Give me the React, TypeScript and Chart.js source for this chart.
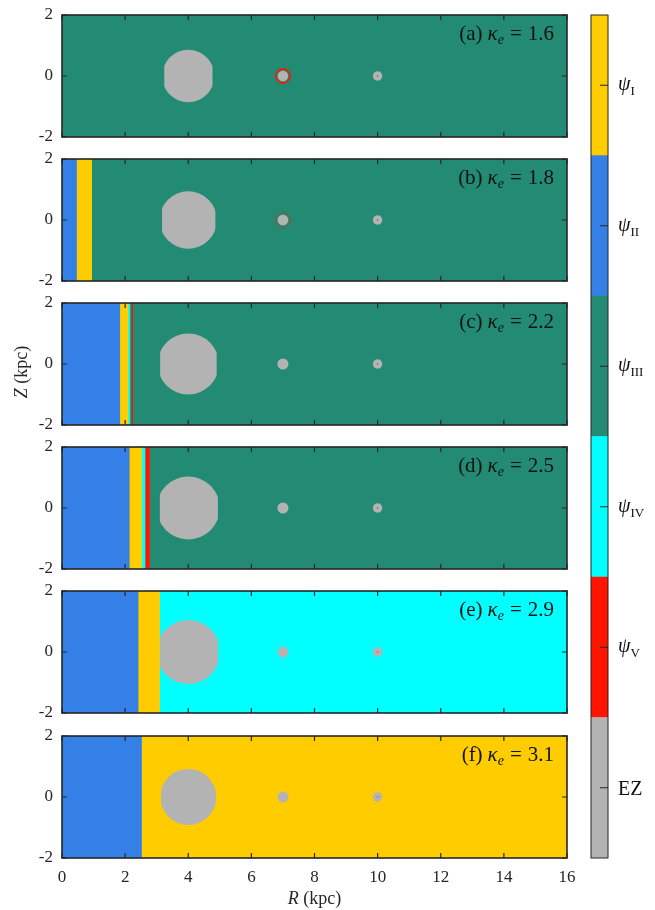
import { useEffect, useRef } from "react";
import { Chart, registerables } from "chart.js";

Chart.register(...registerables);

const FONT = '"Liberation Serif", "Times New Roman", Times, serif';
const INK = "#262626";

// ---------- data ----------
const phaseNames = ["I", "II", "III", "IV", "V", "EZ"];
const phaseColors = ["#FFCC00", "#3580E6", "#238B73", "#00FFFF", "#FF1400", "#B3B3B3"];

const rTicks = [0, 2, 4, 6, 8, 10, 12, 14, 16];
const zTicks = [-2, 0, 2];

const panelLetters = ["a", "b", "c", "d", "e", "f"];
const kappaValues = ["1.6", "1.8", "2.2", "2.5", "2.9", "3.1"];

// phase boundaries along R (kpc) and the phase filling each interval
const edgesA = [0, 16];
const phasesA = ["III"];
const edgesB = [0, 0.46, 0.94, 16];
const phasesB = ["II", "I", "III"];
const edgesC = [0, 1.83, 2.09, 2.15, 2.19, 2.24, 16];
const phasesC = ["II", "I", "IV", "III", "V", "III"];
const edgesD = [0, 2.13, 2.52, 2.63, 2.77, 16];
const phasesD = ["II", "I", "IV", "V", "III"];
const edgesE = [0, 2.41, 3.09, 16];
const phasesE = ["II", "I", "IV"];
const edgesF = [0, 2.52, 16];
const phasesF = ["II", "I"];

// large exclusion zone around R = 4 kpc (ellipse clipped by two R limits)
const ezCenterR = 4.0;
const ezLeft = [3.24, 3.17, 3.11, 3.1, 3.11, 3.14];
const ezRight = [4.77, 4.86, 4.9, 4.94, 4.95, 4.88];
const ezHalfZ = [0.86, 0.94, 1.0, 1.03, 1.05, 0.92];
const ezHalfR = [0.83, 0.91, 0.97, 1.0, 1.01, 0.89];

// small exclusion zones at R = 7 and R = 10 kpc
const smallEzR = [7, 10];
const smallEzRadius7 = [0.165, 0.17, 0.175, 0.175, 0.175, 0.175];
const smallEzRadius10 = [0.15, 0.15, 0.15, 0.15, 0.15, 0.15];
const ringRadius7 = [0.225, 0.245, 0, 0, 0, 0];
const ringAlpha7 = [1, 0.55, 0, 0, 0, 0];

const panelEdges = [edgesA, edgesB, edgesC, edgesD, edgesE, edgesF];
const panelPhases = [phasesA, phasesB, phasesC, phasesD, phasesE, phasesF];

// ---------- layout ----------
const PLOT_LEFT = 62;
const PLOT_RIGHT = 567;
const PANEL_TOPS = [15, 159, 303, 447, 591, 736];
const PLOT_H = 122;
const PAD = 20;
const CANVAS_W = 592;

function colorOf(p: string) {
  return phaseColors[phaseNames.indexOf(p)];
}

type Piece = [string, string, number, number?];

function drawPieces(
  ctx: CanvasRenderingContext2D,
  x: number,
  y: number,
  pieces: Piece[],
  align: "left" | "right" | "center"
) {
  let total = 0;
  const widths = pieces.map(([t, f, , extra]) => {
    ctx.font = f;
    const w = ctx.measureText(t).width + (extra || 0);
    total += w;
    return w;
  });
  let cx = align === "left" ? x : align === "right" ? x - total : x - total / 2;
  ctx.textAlign = "left";
  ctx.textBaseline = "alphabetic";
  pieces.forEach(([t, f, dy], k) => {
    ctx.font = f;
    ctx.fillText(t, cx, y + dy);
    cx += widths[k];
  });
}

function decorPlugin(i: number, isLast: boolean, canvasTop: number) {
  return {
    id: "decor" + i,
    afterDatasetsDraw(chart: any) {
      const { ctx, chartArea: a, scales } = chart;
      const xs = scales.x;
      const ys = scales.y;
      ctx.save();
      ctx.beginPath();
      ctx.rect(a.left, a.top, a.right - a.left, a.bottom - a.top);
      ctx.clip();

      // big EZ
      ctx.save();
      const l = xs.getPixelForValue(ezLeft[i]);
      const r = xs.getPixelForValue(ezRight[i]);
      ctx.beginPath();
      ctx.rect(l, a.top, r - l, a.bottom - a.top);
      ctx.clip();
      const cx = xs.getPixelForValue(ezCenterR);
      const cy = ys.getPixelForValue(0);
      const rx = xs.getPixelForValue(ezCenterR + ezHalfR[i]) - cx;
      const ry = cy - ys.getPixelForValue(ezHalfZ[i]);
      ctx.beginPath();
      ctx.ellipse(cx, cy, rx, ry, 0, 0, Math.PI * 2);
      ctx.fillStyle = colorOf("EZ");
      ctx.fill();
      ctx.restore();

      // small EZs
      const radii = [smallEzRadius7[i], smallEzRadius10[i]];
      smallEzR.forEach((R, k) => {
        const px = xs.getPixelForValue(R);
        const rad = xs.getPixelForValue(R + radii[k]) - px;
        if (k === 0 && ringRadius7[i] > 0) {
          const rr = xs.getPixelForValue(R + ringRadius7[i]) - px;
          ctx.beginPath();
          ctx.arc(px, cy, rr, 0, Math.PI * 2);
          ctx.strokeStyle = colorOf("V");
          ctx.globalAlpha = ringAlpha7[i];
          ctx.lineWidth = i === 0 ? 1.6 : 0.9;
          ctx.stroke();
          ctx.globalAlpha = 1;
        }
        ctx.beginPath();
        ctx.arc(px, cy, rad, 0, Math.PI * 2);
        ctx.fillStyle = colorOf("EZ");
        ctx.fill();
        if (k === 1) {
          ctx.beginPath();
          ctx.arc(px, cy, 0.9, 0, Math.PI * 2);
          ctx.fillStyle = "rgba(230,70,70,0.65)";
          ctx.fill();
        }
      });
      ctx.restore();
    },
    afterDraw(chart: any) {
      const { ctx, chartArea: a, scales } = chart;
      const xs = scales.x;
      const ys = scales.y;
      ctx.save();
      ctx.strokeStyle = INK;
      ctx.lineWidth = 1.2;
      const tl = 5;
      ctx.beginPath();
      rTicks.forEach((v) => {
        const px = xs.getPixelForValue(v);
        ctx.moveTo(px, a.top);
        ctx.lineTo(px, a.top + tl);
        ctx.moveTo(px, a.bottom);
        ctx.lineTo(px, a.bottom - tl);
      });
      zTicks.forEach((v) => {
        const py = ys.getPixelForValue(v);
        ctx.moveTo(a.left, py);
        ctx.lineTo(a.left + tl, py);
        ctx.moveTo(a.right, py);
        ctx.lineTo(a.right - tl, py);
      });
      ctx.stroke();
      ctx.lineWidth = 1.6;
      ctx.strokeRect(a.left, a.top, a.right - a.left, a.bottom - a.top);

      // panel title
      ctx.fillStyle = "#111111";
      drawPieces(
        ctx,
        a.right - 13,
        a.top + 24.5,
        [
          [`(${panelLetters[i]})`, `21px ${FONT}`, 0, 5],
          ["κ", `italic 21px ${FONT}`, 0],
          ["e", `italic 14px ${FONT}`, 4, 6],
          ["=", `21px ${FONT}`, 0, 6],
          [kappaValues[i], `21px ${FONT}`, 0],
        ],
        "right"
      );

      // axis titles
      ctx.fillStyle = INK;
      if (isLast) {
        drawPieces(
          ctx,
          (a.left + a.right) / 2,
          904 - canvasTop,
          [
            ["R", `italic 18px ${FONT}`, 0],
            [" (kpc)", `18px ${FONT}`, 0],
          ],
          "center"
        );
      }
      if (i === 2) {
        ctx.save();
        ctx.translate(27, 372 - canvasTop);
        ctx.rotate(-Math.PI / 2);
        drawPieces(
          ctx,
          0,
          0,
          [
            ["Z", `italic 18px ${FONT}`, 0],
            [" (kpc)", `18px ${FONT}`, 0],
          ],
          "center"
        );
        ctx.restore();
      }
      ctx.restore();
    },
  };
}

function panelConfig(i: number, isLast: boolean, canvasTop: number): any {
  const edges = panelEdges[i];
  const phases = panelPhases[i];
  const datasets = phases.map((p, k) => ({
    label: "ψ " + p,
    data: [[edges[k], edges[k + 1]]],
    backgroundColor: colorOf(p),
    borderWidth: 0,
    barPercentage: 1,
    categoryPercentage: 1,
    grouped: false,
    xAxisID: "x",
    yAxisID: "yb",
  }));
  const tickFont = { family: FONT, size: 17 };
  return {
    type: "bar",
    data: { labels: [""], datasets },
    options: {
      indexAxis: "y",
      animation: false,
      responsive: false,
      events: [],
      layout: {
        padding: { left: 0, right: CANVAS_W - PLOT_RIGHT, top: PAD, bottom: isLast ? 28 : PAD },
      },
      plugins: { legend: { display: false }, tooltip: { enabled: false } },
      scales: {
        x: {
          type: "linear",
          min: 0,
          max: 16,
          offset: false,
          display: isLast,
          position: "bottom",
          grid: { display: false, drawTicks: false },
          border: { display: false },
          ticks: { font: tickFont, color: INK, padding: 9, maxRotation: 0, autoSkip: false },
          afterBuildTicks: (s: any) => {
            s.ticks = rTicks.map((v) => ({ value: v }));
          },
          afterFit: (s: any) => {
            if (isLast) s.height = 24;
          },
        },
        yb: {
          type: "category",
          axis: "y",
          display: false,
          offset: true,
          grid: { display: false },
        },
        y: {
          type: "linear",
          axis: "y",
          position: "left",
          min: -2,
          max: 2,
          offset: false,
          grid: { display: false, drawTicks: false, offset: false },
          border: { display: false },
          ticks: { font: tickFont, color: INK, padding: 9 },
          afterBuildTicks: (s: any) => {
            s.ticks = zTicks.map((v) => ({ value: v }));
          },
          afterFit: (s: any) => {
            s.width = PLOT_LEFT;
          },
        },
      },
    },
    plugins: [decorPlugin(i, isLast, canvasTop)],
  };
}

const CB_LEFT = 585;
const CB_W = 70;

const colorbarPlugin = {
  id: "colorbarDecor",
  afterDraw(chart: any) {
    const { ctx, chartArea: a, scales } = chart;
    const ys = scales.y;
    ctx.save();
    ctx.strokeStyle = INK;
    ctx.lineWidth = 1;
    ctx.strokeRect(a.left, a.top, a.right - a.left, a.bottom - a.top);
    const n = phaseNames.length;
    phaseNames.forEach((p, k) => {
      // top segment is phase I
      const py = ys.getPixelForValue(n - k - 0.5);
      ctx.beginPath();
      ctx.moveTo(a.right, py);
      ctx.lineTo(a.right - 8, py);
      ctx.stroke();
      ctx.fillStyle = "#111111";
      const x0 = a.right + 10;
      if (p === "EZ") {
        drawPieces(ctx, x0, py + 7, [["EZ", `20px ${FONT}`, 0]], "left");
      } else {
        drawPieces(
          ctx,
          x0,
          py + 5,
          [
            ["ψ", `italic 20px ${FONT}`, 0],
            [p, `13px ${FONT}`, 5],
          ],
          "left"
        );
      }
    });
    ctx.restore();
  },
};

function colorbarConfig(): any {
  const order = [...phaseNames].reverse();
  return {
    type: "bar",
    data: {
      labels: [""],
      datasets: order.map((p) => ({
        label: p,
        data: [1],
        backgroundColor: colorOf(p),
        borderWidth: 0,
        barPercentage: 1,
        categoryPercentage: 1,
      })),
    },
    options: {
      animation: false,
      responsive: false,
      events: [],
      layout: { padding: { left: 591 - CB_LEFT, right: CB_LEFT + CB_W - 608, top: 15, bottom: 910 - 858 } },
      plugins: { legend: { display: false }, tooltip: { enabled: false } },
      scales: {
        x: { stacked: true, display: false, offset: true },
        y: { stacked: true, display: false, min: 0, max: phaseNames.length },
      },
    },
    plugins: [colorbarPlugin],
  };
}

export default function App() {
  const refs = useRef<(HTMLCanvasElement | null)[]>([]);
  const cbRef = useRef<HTMLCanvasElement | null>(null);

  useEffect(() => {
    const charts: Chart[] = [];
    PANEL_TOPS.forEach((top, i) => {
      const c = refs.current[i];
      if (!c) return;
      const isLast = i === PANEL_TOPS.length - 1;
      charts.push(new Chart(c, panelConfig(i, isLast, top - PAD)));
    });
    if (cbRef.current) charts.push(new Chart(cbRef.current, colorbarConfig()));
    return () => charts.forEach((ch) => ch.destroy());
  }, []);

  return (
    <div style={{ position: "absolute", left: 0, top: 0, width: 655, height: 910, background: "#fff" }}>
      {PANEL_TOPS.map((top, i) => {
        const isLast = i === PANEL_TOPS.length - 1;
        const h = isLast ? 910 - (top - PAD) : PLOT_H + 2 * PAD;
        return (
          <canvas
            key={i}
            ref={(el) => {
              refs.current[i] = el;
            }}
            width={CANVAS_W}
            height={h}
            style={{ position: "absolute", left: 0, top: top - PAD, width: CANVAS_W, height: h }}
          />
        );
      })}
      <canvas
        ref={cbRef}
        width={CB_W}
        height={910}
        style={{ position: "absolute", left: CB_LEFT, top: 0, width: CB_W, height: 910 }}
      />
    </div>
  );
}
